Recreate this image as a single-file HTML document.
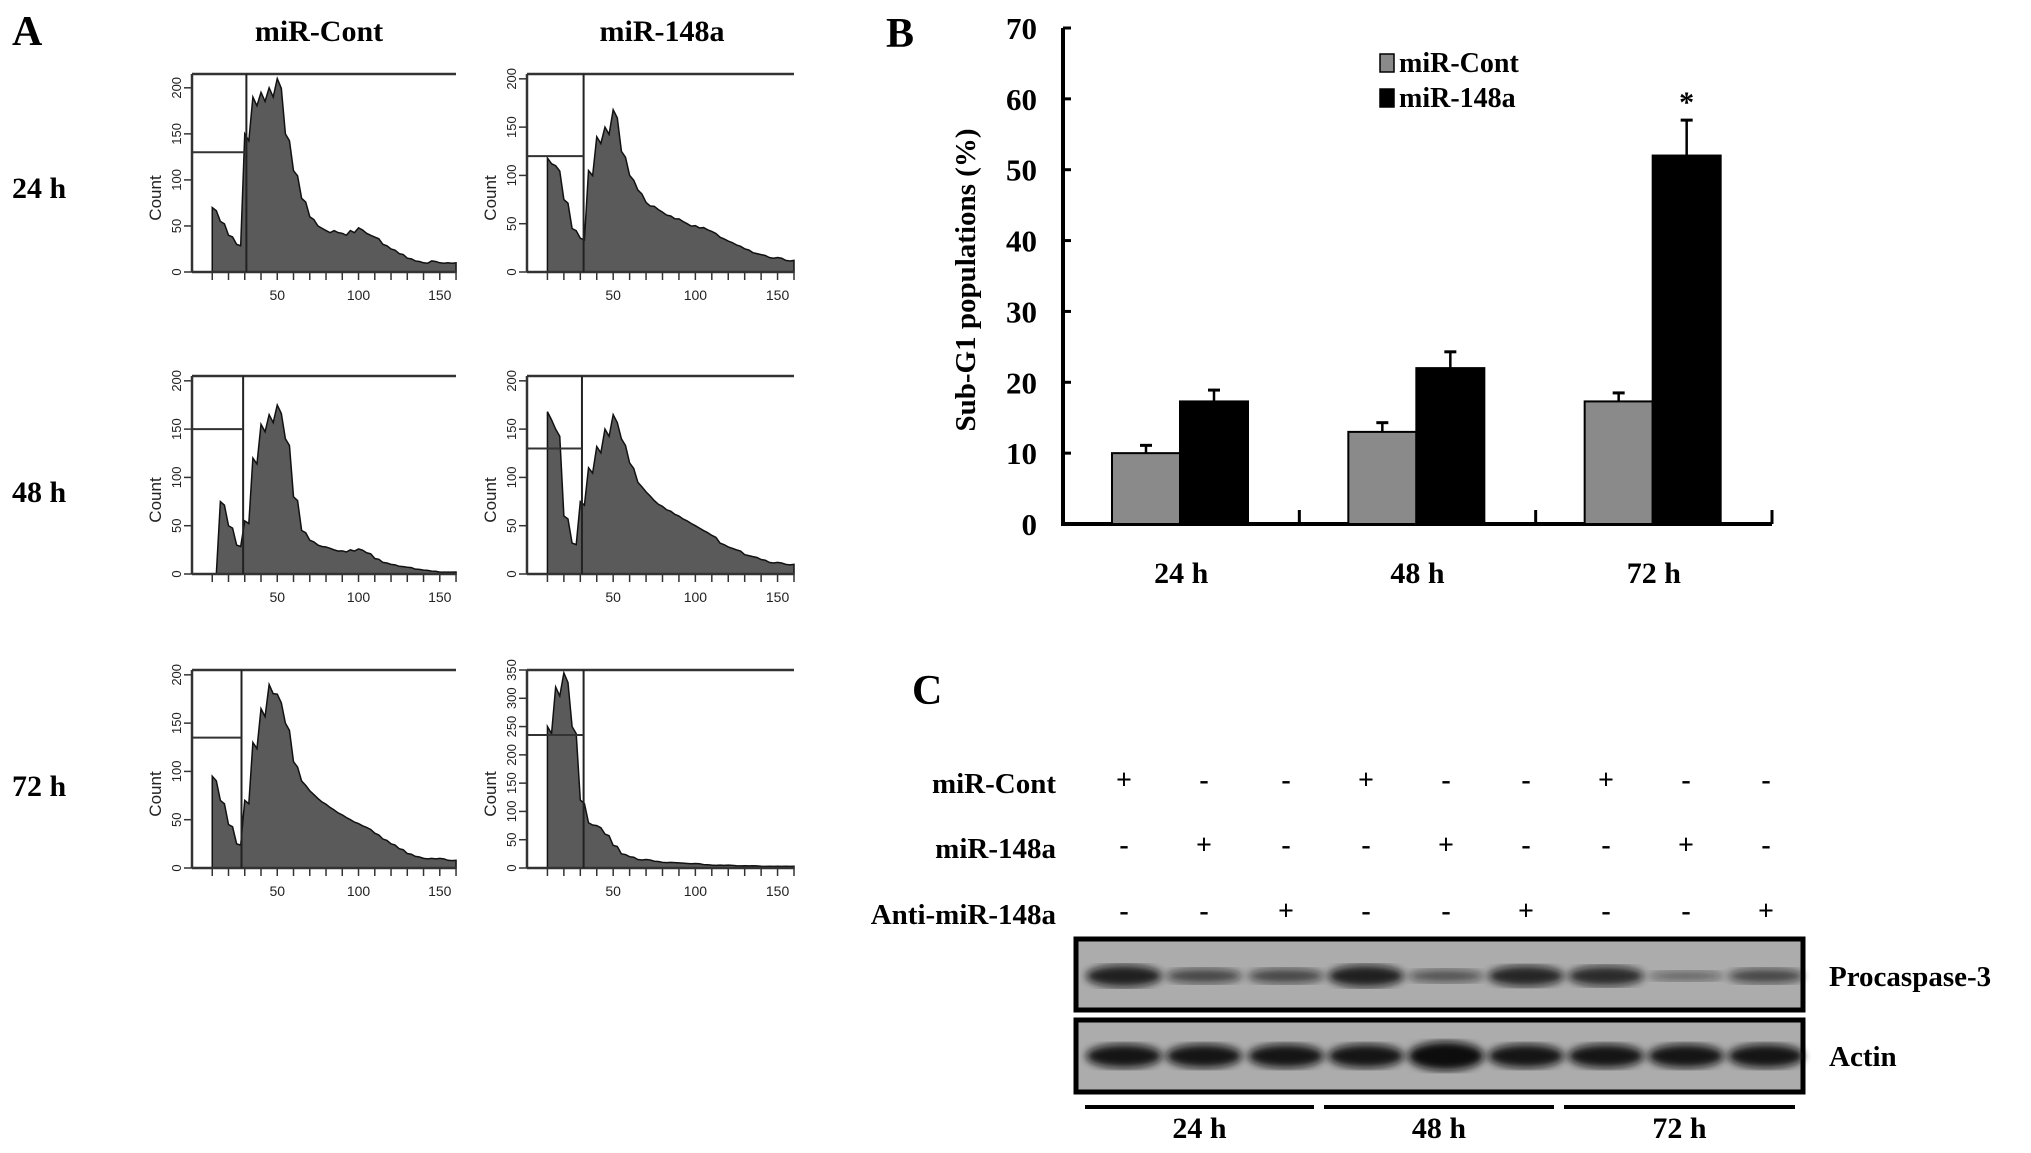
<!DOCTYPE html>
<html><head><meta charset="utf-8"><style>
html,body{margin:0;padding:0;background:#fff;}
svg{display:block;font-family:"Liberation Serif",serif;font-weight:bold;}
</style></head><body>
<svg id="fig" width="2031" height="1153" viewBox="0 0 2031 1153" xmlns="http://www.w3.org/2000/svg">
<defs>
<filter id="blur3"><feGaussianBlur stdDeviation="4"/></filter>
</defs>
<g id="panelA"></g>
<g id="panelB"></g>
<g id="panelC"></g>
</svg>
<script>
// ---- Panel B data ----
const categories = ["24 h", "48 h", "72 h"];
const contValues = [10, 13, 17.3];
const contErrors = [1.1, 1.3, 1.2];
const mirValues = [17.3, 22, 52];
const mirErrors = [1.6, 2.3, 5];
const yTicks = [0, 10, 20, 30, 40, 50, 60, 70];
const significance = ["", "", "*"];

// ---- Panel A histogram data (counts per 5-unit bin starting at 10) ----
const binStart = 10;
const binWidth = 5;
const hist24Cont = [70,55,40,30,150,190,195,200,210,150,110,80,60,50,45,45,42,45,48,42,38,30,25,20,15,12,10,12,10,10];
const hist24Mir = [118,110,75,45,35,105,140,150,168,125,100,85,72,68,62,58,55,50,48,46,42,36,32,28,24,20,18,15,15,12];
const hist48Cont = [0,75,50,30,55,120,155,165,175,140,80,45,35,30,28,25,24,25,26,22,16,12,10,8,7,5,4,3,2,2];
const hist48Mir = [168,150,60,32,75,110,132,150,165,140,115,95,85,76,70,65,60,55,50,45,40,32,28,25,20,18,15,12,12,10];
const hist72Cont = [95,70,45,25,70,130,165,190,180,150,110,90,80,72,66,60,55,50,46,42,36,30,25,20,15,12,10,10,10,8];
const hist72Mir = [250,320,345,250,120,80,75,60,40,25,20,15,15,12,10,10,9,8,8,6,5,5,5,4,4,4,3,3,3,3];
const histMax = [215, 205, 205, 205, 205, 350];
const histYTicks = [[0,50,100,150,200],[0,50,100,150,200],[0,50,100,150,200],[0,50,100,150,200],[0,50,100,150,200],[0,50,100,150,200,250,300,350]];
const gateX = [31, 32, 29, 31, 28, 32];
const gateY = [130, 120, 150, 130, 135, 235];
const xTickValues = [50, 100, 150];
const rowLabels = ["24 h", "48 h", "72 h"];
const colLabels = ["miR-Cont", "miR-148a"];

// ---- Panel C data ----
const blotRows = ["miR-Cont", "miR-148a", "Anti-miR-148a"];
const blotSigns = [
  ["+","-","-","+","-","-","+","-","-"],
  ["-","+","-","-","+","-","-","+","-"],
  ["-","-","+","-","-","+","-","-","+"]
];
const procaspaseIntensity = [0.9, 0.55, 0.55, 0.9, 0.45, 0.85, 0.8, 0.3, 0.55];
const actinIntensity = [1, 1, 1, 1, 1.25, 1, 1, 1, 1];
const timeGroups = ["24 h", "48 h", "72 h"];

const NS = "http://www.w3.org/2000/svg";
function mk(parent, tag, attrs, text) {
  const e = document.createElementNS(NS, tag);
  for (const k in attrs) e.setAttribute(k, attrs[k]);
  if (text !== undefined) e.textContent = text;
  parent.appendChild(e);
  return e;
}

// ================= Panel B =================
(function(){
  const g = document.getElementById("panelB");
  const x0 = 1063, x1 = 1772, y0 = 524, yTop = 28;
  const yScale = v => y0 - v * (y0 - yTop) / 70;
  const groupW = (x1 - x0) / categories.length;
  const barW = 68;
  const t = mk(g, "text", {x: 886, y: 47, "font-size": 42}, "B");
  
  
  const ax = mk(g, "line", {x1: x0, y1: yTop, x2: x0, y2: y0 + 1, stroke: "#000", "stroke-width": 4});
  
  
  const xax = mk(g, "line", {x1: x0 - 2, y1: y0, x2: x1, y2: y0, stroke: "#000", "stroke-width": 4});
  
  
  yTicks.forEach(v => {
    const y = yScale(v);
    const tk = mk(g, "line", {x1: x0, y1: y, x2: x0 + 8, y2: y, stroke: "#000", "stroke-width": 3});
    
    
    const lb = mk(g, "text", {x: 1037, y: y + 11, "font-size": 31, "text-anchor": "end"}, String(v));
    
    
  });
  const yt = mk(g, "text", {x: 0, y: 0, "font-size": 29, "text-anchor": "middle", transform: "translate(975,280) rotate(-90)"}, "Sub-G1 populations (%)");
  
  
  categories.forEach((c, i) => {
    const gx = x0 + i * groupW;
    const tk = mk(g, "line", {x1: gx + groupW, y1: y0, x2: gx + groupW, y2: y0 - 14, stroke: "#000", "stroke-width": 3});
    
    
    const bx = gx + 49;
    [[contValues, contErrors, "#8a8a8a", "cont"], [mirValues, mirErrors, "#000", "mir"]].forEach((s, j) => {
      const v = s[0][i], e = s[1][i];
      const xx = bx + j * barW;
      const eb = mk(g, "line", {x1: xx + barW / 2, y1: yScale(v), x2: xx + barW / 2, y2: yScale(v + e), stroke: "#000", "stroke-width": 2.5});
      
      
      const cap = mk(g, "line", {x1: xx + barW / 2 - 6, y1: yScale(v + e), x2: xx + barW / 2 + 6, y2: yScale(v + e), stroke: "#000", "stroke-width": 3});
      
      
      const r = mk(g, "rect", {x: xx, y: yScale(v), width: barW, height: y0 - yScale(v), fill: s[2], stroke: "#000", "stroke-width": 2});
      
      
      if (j === 1 && significance[i]) {
        const st = mk(g, "text", {x: xx + barW / 2, y: yScale(v + e) - 8, "font-size": 30, "text-anchor": "middle"}, significance[i]);
        
        
      }
    });
    const xl = mk(g, "text", {x: gx + groupW / 2, y: 583, "font-size": 30, "text-anchor": "middle"}, c);
    
    
  });
  [["miR-Cont", "#8a8a8a", 72], ["miR-148a", "#000", 107]].forEach(l => {
    const sq = mk(g, "rect", {x: 1380, y: l[2] - 18, width: 14, height: 18, fill: l[1], stroke: "#000", "stroke-width": 1.5});
    
    
    const lt = mk(g, "text", {x: 1399, y: l[2], "font-size": 28}, l[0]);
    
    
  });
})();

// ================= Panel A =================
(function(){
  const g = document.getElementById("panelA");
  const hists = [hist24Cont, hist24Mir, hist48Cont, hist48Mir, hist72Cont, hist72Mir];
  const colX = [[192, 456], [527, 794]];
  const rowY = [[74, 272], [376, 574], [670, 868]];
  const a = mk(g, "text", {x: 12, y: 45, "font-size": 42}, "A");
  
  
  colLabels.forEach((c, i) => {
    const t = mk(g, "text", {x: [319, 662][i], y: 41, "font-size": 30, "text-anchor": "middle"}, c);
    
    
  });
  rowLabels.forEach((r, i) => {
    const t = mk(g, "text", {x: 12, y: [198, 502, 796][i], "font-size": 30}, r);
    
    
  });
  hists.forEach((h, k) => {
    const col = k % 2, row = Math.floor(k / 2);
    const L = colX[col][0], R = colX[col][1], T = rowY[row][0], B = rowY[row][1];
    const xs = v => L + (v / 160) * (R - L) * 0.985 + 4;
    const ys = v => B - (v / histMax[k]) * (B - T);
    const hg = mk(g, "g", {});
    
    
    let d = "M" + xs(binStart) + "," + B;
    h.forEach((v, i) => {
      const xa = xs(binStart + i * binWidth), xb = xs(binStart + (i + 1) * binWidth);
      d += " L" + xa + "," + ys(v) + " L" + ((xa + xb) / 2) + "," + ys(v * 0.95);
    });
    d += " L" + xs(160) + "," + ys(h[h.length - 1]) + " L" + xs(160) + "," + B + " Z";
    const p = mk(hg, "path", {d: d, fill: "#5a5a5a", stroke: "#111", "stroke-width": 1.5});
    
    
    const gx = xs(gateX[k]);
    mk(hg, "line", {x1: L, y1: T, x2: R, y2: T, stroke: "#333", "stroke-width": 2.5});
    mk(hg, "line", {x1: L, y1: T, x2: L, y2: B, stroke: "#333", "stroke-width": 2.5});
    mk(hg, "line", {x1: L, y1: B, x2: R, y2: B, stroke: "#333", "stroke-width": 2.5});
    const gl = mk(hg, "line", {x1: gx, y1: T, x2: gx, y2: B, stroke: "#222", "stroke-width": 2});
    
    
    mk(hg, "line", {x1: L, y1: ys(gateY[k]), x2: gx, y2: ys(gateY[k]), stroke: "#333", "stroke-width": 2});
    for (let v = 10; v <= 160; v += 10) {
      mk(hg, "line", {x1: xs(v), y1: B, x2: xs(v), y2: B + 8, stroke: "#333", "stroke-width": 1.5});
    }
    xTickValues.forEach(v => {
      const tl = mk(hg, "text", {x: xs(v), y: B + 28, "font-size": 14, "font-family": "Liberation Sans", "font-weight": "normal", "text-anchor": "middle", fill: "#222"}, String(v));
      
      
    });
    histYTicks[k].forEach(v => {
      mk(hg, "line", {x1: L - 8, y1: ys(v), x2: L, y2: ys(v), stroke: "#333", "stroke-width": 1.5});
      const yl = mk(hg, "text", {x: 0, y: 0, "font-size": 13, "font-family": "Liberation Sans", "font-weight": "normal", "text-anchor": "middle", fill: "#222", transform: "translate(" + (L - 11) + "," + ys(v) + ") rotate(-90)"}, String(v));
      
      
    });
    const cl = mk(hg, "text", {x: 0, y: 0, "font-size": 17, "font-family": "Liberation Sans", "font-weight": "normal", "text-anchor": "middle", fill: "#222", transform: "translate(" + (L - 31) + "," + ((T + B) / 2 + 25) + ") rotate(-90)"}, "Count");
    
    
  });
})();

// ================= Panel C =================
(function(){
  const g = document.getElementById("panelC");
  const colXs = [1124, 1204, 1286, 1366, 1446, 1526, 1606, 1686, 1766];
  const c = mk(g, "text", {x: 912, y: 704, "font-size": 42}, "C");
  
  
  blotRows.forEach((r, i) => {
    const y = [793, 858, 924][i];
    const t = mk(g, "text", {x: 1056, y: y, "font-size": 29, "text-anchor": "end"}, r);
    
    
    blotSigns[i].forEach((s, j) => {
      const st = mk(g, "text", {x: colXs[j], y: y - 4, "font-size": 28, "text-anchor": "middle"}, s);
      
      
    });
  });
  [[939, 1010, procaspaseIntensity, "Procaspase-3", 976, 14], [1020, 1092, actinIntensity, "Actin", 1056, 14]].forEach(b => {
    const bg = mk(g, "g", {});
    
    
    mk(bg, "rect", {x: 1076, y: b[0], width: 727, height: b[1] - b[0], fill: "#acacac", stroke: "#000", "stroke-width": 5});
    const cy = b[4];
    b[2].forEach((v, j) => {
      const band = mk(bg, "ellipse", {cx: colXs[j], cy: cy, rx: 38, ry: b[5] * Math.min(v, 1.3) * 0.7 + 2, fill: "#111", opacity: Math.min(1, 0.25 + v * 0.7), filter: "url(#blur3)"});
      
      
    });
    const lb = mk(g, "text", {x: 1829, y: cy + 10, "font-size": 29}, b[3]);
    
    
  });
  timeGroups.forEach((tg, i) => {
    const xa = [1085, 1324, 1564][i], xb = [1314, 1554, 1795][i];
    const ln = mk(g, "line", {x1: xa, y1: 1107, x2: xb, y2: 1107, stroke: "#000", "stroke-width": 4});
    
    
    const tt = mk(g, "text", {x: (xa + xb) / 2, y: 1138, "font-size": 30, "text-anchor": "middle"}, tg);
    
    
  });
})();
</script>
</body></html>
